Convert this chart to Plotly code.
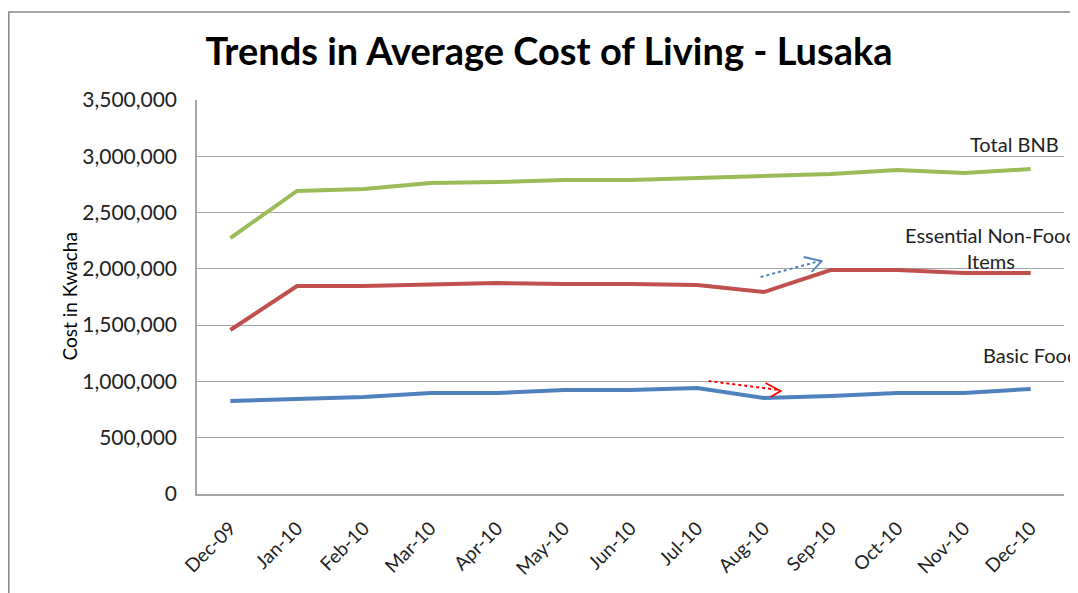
import plotly.graph_objects as go

months = ["Dec-09", "Jan-10", "Feb-10", "Mar-10", "Apr-10", "May-10", "Jun-10",
          "Jul-10", "Aug-10", "Sep-10", "Oct-10", "Nov-10", "Dec-10"]
total_bnb = [2274000, 2692000, 2709000, 2763000, 2771000, 2789000, 2789000,
             2807000, 2825000, 2843000, 2878000, 2851000, 2887000]
non_food = [1457000, 1848000, 1848000, 1865000, 1874000, 1865000, 1865000,
            1856000, 1794000, 1990000, 1990000, 1963000, 1963000]
basic_food = [826000, 844000, 862000, 897000, 897000, 924000, 924000,
              942000, 853000, 870000, 897000, 897000, 933000]
y_ticks = [0, 500000, 1000000, 1500000, 2000000, 2500000, 3000000, 3500000]

FONT = "Lato"
GREEN, RED, BLUE = "#9BBB59", "#C0504D", "#4F81BD"
OFF = 8  # page body margin offset

# plot area in page pixels
PL, PR, PT, PB = 197, 1064, 100, 494
W, H = 1078, 593

fig = go.Figure()
for name, vals, col in [("Total BNB", total_bnb, GREEN),
                        ("Essential Non-Food Items", non_food, RED),
                        ("Basic Food", basic_food, BLUE)]:
    fig.add_trace(go.Scatter(x=list(range(len(months))), y=vals, mode="lines", name=name,
                             line=dict(color=col, width=4), showlegend=False))

fig.update_layout(
    width=W, height=H,
    margin=dict(l=PL - OFF, r=W - (PR - OFF), t=PT - OFF, b=H - (PB - OFF)),
    paper_bgcolor="white", plot_bgcolor="white",
    font=dict(family=FONT, color="#222222", size=20),
    title=dict(text="<b>Trends in Average Cost of Living - Lusaka</b>",
               x=(549 - OFF) / W, xanchor="center", y=1 - (52 - OFF) / H, yanchor="middle",
               font=dict(family=FONT, size=38, color="black")),
)
fig.update_xaxes(
    tickmode="array", tickvals=list(range(len(months))), ticktext=months,
    range=[-0.5, len(months) - 0.5], tickangle=-45,
    showgrid=False, showline=True, linecolor="#A6A6A6", linewidth=1.5,
    tickfont=dict(size=19, family=FONT, color="#222222"), zeroline=False,
    ticklabelstandoff=14,
)
fig.update_yaxes(
    range=[0, 3500000], tickvals=y_ticks, tickformat=",d",
    showgrid=True, gridcolor="#A6A6A6", gridwidth=1.2,
    showline=True, linecolor="#A6A6A6", linewidth=1.5, zeroline=False,
    tickfont=dict(size=21, family=FONT, color="#222222"), ticks="",
    ticklabelstandoff=14,
)

pw = PR - PL
ph = PB - PT


def pxp(px):
    return (px - PL) / pw


def pyp(py):
    return (PB - py) / ph


# outer chart border
fig.add_shape(type="rect", xref="paper", yref="paper",
              x0=pxp(OFF + 0.8), x1=1.2, y0=-0.5, y1=pyp(12),
              line=dict(color="#868686", width=1.5), layer="below")

fig.add_annotation(text="Cost in Kwacha", xref="paper", yref="paper",
                   x=pxp(55), y=pyp(297), textangle=-90, showarrow=False,
                   font=dict(size=19, family=FONT, color="black"))

fig.add_annotation(text="Total BNB", xref="paper", yref="paper", x=pxp(1061),
                   y=pyp(144), xanchor="right", yanchor="middle", showarrow=False,
                   font=dict(size=20, family=FONT, color="#222222"))
fig.add_annotation(text="Essential Non-Food<br>Items", xref="paper", yref="paper", x=pxp(991),
                   y=pyp(248), xanchor="center", yanchor="middle", showarrow=False,
                   align="center", font=dict(size=20, family=FONT, color="#222222"))
fig.add_annotation(text="Basic Food", xref="paper", yref="paper", x=pxp(981),
                   y=pyp(355), xanchor="left", yanchor="middle", showarrow=False,
                   font=dict(size=20, family=FONT, color="#222222"))


def px2x(px):
    return (px - 230.5) / 66.6


def px2y(py):
    return (PB - py) * 3500000 / ph


# blue dotted arrow
fig.add_shape(type="line", xref="x", yref="y", x0=px2x(760), y0=px2y(277),
              x1=px2x(819), y1=px2y(261), line=dict(color=BLUE, width=2, dash="dot"))
fig.add_shape(type="path", xref="x", yref="y",
              path=f"M {px2x(803)},{px2y(257)} L {px2x(821)},{px2y(261)} L {px2x(811)},{px2y(272)}",
              line=dict(color=BLUE, width=1.8))
# red dotted arrow
fig.add_shape(type="line", xref="x", yref="y", x0=px2x(708), y0=px2y(381),
              x1=px2x(779), y1=px2y(390), line=dict(color="#FF0000", width=2, dash="dot"))
fig.add_shape(type="path", xref="x", yref="y",
              path=f"M {px2x(765)},{px2y(383)} L {px2x(780)},{px2y(391)} L {px2x(770)},{px2y(397)}",
              line=dict(color="#FF0000", width=1.8))

fig.write_html("out.html")
